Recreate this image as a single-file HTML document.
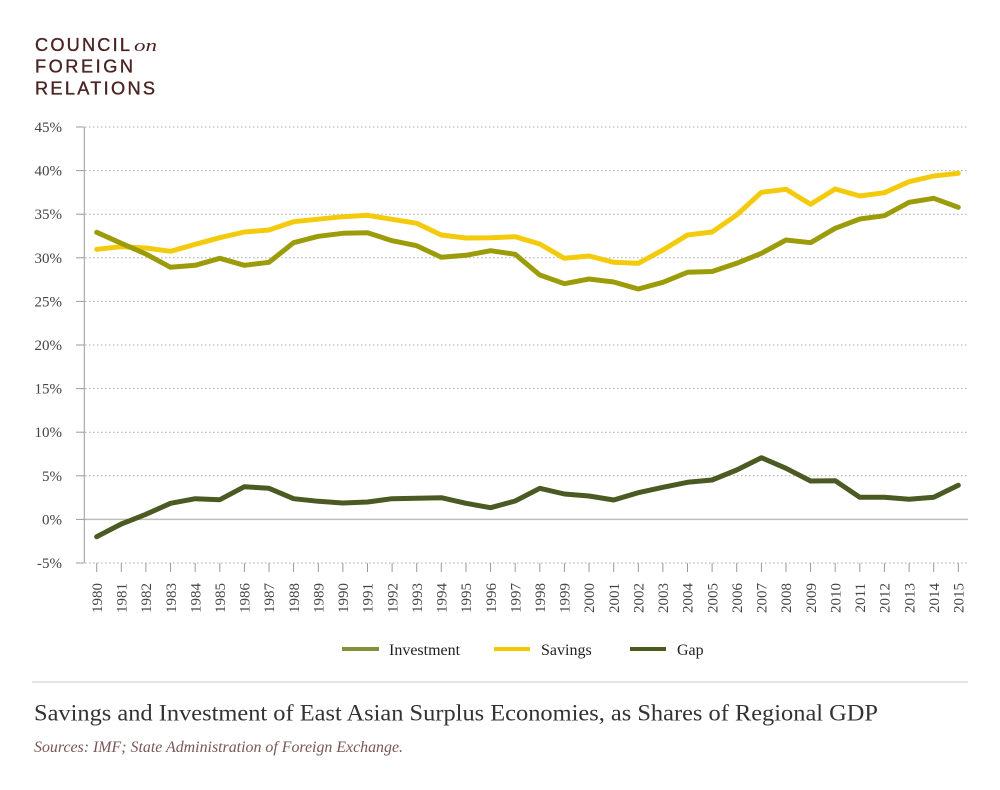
<!DOCTYPE html>
<html>
<head>
<meta charset="utf-8">
<style>
html,body{margin:0;padding:0;background:#fff;}
svg{display:block;}
</style>
</head>
<body>
<svg width="1000" height="790" viewBox="0 0 1000 790" xmlns="http://www.w3.org/2000/svg">
<rect width="1000" height="790" fill="#fff"/>
<!-- Logo -->
<g fill="#4b2323" stroke="#4b2323" stroke-width="0.35" font-family="'Liberation Sans', sans-serif" font-size="18.2">
<text x="35" y="51" textLength="95" lengthAdjust="spacing">COUNCIL</text>
<text x="35" y="72.7" textLength="98" lengthAdjust="spacing">FOREIGN</text>
<text x="35" y="94.3" textLength="120" lengthAdjust="spacing">RELATIONS</text>
</g>
<text x="134" y="51" font-family="'Liberation Serif', serif" font-style="italic" font-size="17" fill="#4b2323" textLength="23" lengthAdjust="spacingAndGlyphs">on</text>

<!-- gridlines -->
<g stroke="#a9a9a9" stroke-width="1" stroke-dasharray="1.5,2.5">
<line x1="85" y1="127" x2="968" y2="127"/>
<line x1="85" y1="170.6" x2="968" y2="170.6"/>
<line x1="85" y1="214.2" x2="968" y2="214.2"/>
<line x1="85" y1="257.8" x2="968" y2="257.8"/>
<line x1="85" y1="301.4" x2="968" y2="301.4"/>
<line x1="85" y1="345" x2="968" y2="345"/>
<line x1="85" y1="388.6" x2="968" y2="388.6"/>
<line x1="85" y1="432.2" x2="968" y2="432.2"/>
<line x1="85" y1="475.8" x2="968" y2="475.8"/>
<line x1="85" y1="563" x2="968" y2="563"/>
</g>
<line x1="84" y1="519.4" x2="968" y2="519.4" stroke="#bdbdbd" stroke-width="1.5"/>
<!-- y axis -->
<line x1="84.3" y1="127" x2="84.3" y2="563" stroke="#9a9a9a" stroke-width="1"/>
<g stroke="#9a9a9a" stroke-width="1">
<line x1="76" y1="127" x2="84" y2="127"/>
<line x1="76" y1="170.6" x2="84" y2="170.6"/>
<line x1="76" y1="214.2" x2="84" y2="214.2"/>
<line x1="76" y1="257.8" x2="84" y2="257.8"/>
<line x1="76" y1="301.4" x2="84" y2="301.4"/>
<line x1="76" y1="345" x2="84" y2="345"/>
<line x1="76" y1="388.6" x2="84" y2="388.6"/>
<line x1="76" y1="432.2" x2="84" y2="432.2"/>
<line x1="76" y1="475.8" x2="84" y2="475.8"/>
<line x1="76" y1="519.4" x2="84" y2="519.4"/>
<line x1="76" y1="563" x2="84" y2="563"/>
</g>
<g font-family="'Liberation Serif', serif" font-size="15" fill="#444" text-anchor="end">
<text x="62" y="132">45%</text>
<text x="62" y="175.6">40%</text>
<text x="62" y="219.2">35%</text>
<text x="62" y="262.8">30%</text>
<text x="62" y="306.4">25%</text>
<text x="62" y="350">20%</text>
<text x="62" y="393.6">15%</text>
<text x="62" y="437.2">10%</text>
<text x="62" y="480.8">5%</text>
<text x="62" y="524.4">0%</text>
<text x="62" y="568">-5%</text>
</g>

<!-- x ticks -->
<g stroke="#9a9a9a" stroke-width="1">
<line x1="96.7" y1="563" x2="96.7" y2="572"/><line x1="121.3" y1="563" x2="121.3" y2="572"/><line x1="145.9" y1="563" x2="145.9" y2="572"/><line x1="170.6" y1="563" x2="170.6" y2="572"/><line x1="195.2" y1="563" x2="195.2" y2="572"/><line x1="219.8" y1="563" x2="219.8" y2="572"/><line x1="244.4" y1="563" x2="244.4" y2="572"/><line x1="269" y1="563" x2="269" y2="572"/><line x1="293.6" y1="563" x2="293.6" y2="572"/><line x1="318.3" y1="563" x2="318.3" y2="572"/><line x1="342.9" y1="563" x2="342.9" y2="572"/><line x1="367.5" y1="563" x2="367.5" y2="572"/><line x1="392.1" y1="563" x2="392.1" y2="572"/><line x1="416.7" y1="563" x2="416.7" y2="572"/><line x1="441.3" y1="563" x2="441.3" y2="572"/><line x1="466" y1="563" x2="466" y2="572"/><line x1="490.6" y1="563" x2="490.6" y2="572"/><line x1="515.2" y1="563" x2="515.2" y2="572"/><line x1="539.8" y1="563" x2="539.8" y2="572"/><line x1="564.4" y1="563" x2="564.4" y2="572"/><line x1="589" y1="563" x2="589" y2="572"/><line x1="613.7" y1="563" x2="613.7" y2="572"/><line x1="638.3" y1="563" x2="638.3" y2="572"/><line x1="662.9" y1="563" x2="662.9" y2="572"/><line x1="687.5" y1="563" x2="687.5" y2="572"/><line x1="712.1" y1="563" x2="712.1" y2="572"/><line x1="736.7" y1="563" x2="736.7" y2="572"/><line x1="761.4" y1="563" x2="761.4" y2="572"/><line x1="786" y1="563" x2="786" y2="572"/><line x1="810.6" y1="563" x2="810.6" y2="572"/><line x1="835.2" y1="563" x2="835.2" y2="572"/><line x1="859.8" y1="563" x2="859.8" y2="572"/><line x1="884.4" y1="563" x2="884.4" y2="572"/><line x1="909.1" y1="563" x2="909.1" y2="572"/><line x1="933.7" y1="563" x2="933.7" y2="572"/><line x1="958.3" y1="563" x2="958.3" y2="572"/>
</g>
<g font-family="'Liberation Serif', serif" font-size="15" fill="#444" text-anchor="end">
<text transform="translate(101.9,583) rotate(-90)">1980</text>
<text transform="translate(126.5,583) rotate(-90)">1981</text>
<text transform="translate(151.1,583) rotate(-90)">1982</text>
<text transform="translate(175.8,583) rotate(-90)">1983</text>
<text transform="translate(200.4,583) rotate(-90)">1984</text>
<text transform="translate(225,583) rotate(-90)">1985</text>
<text transform="translate(249.6,583) rotate(-90)">1986</text>
<text transform="translate(274.2,583) rotate(-90)">1987</text>
<text transform="translate(298.8,583) rotate(-90)">1988</text>
<text transform="translate(323.5,583) rotate(-90)">1989</text>
<text transform="translate(348.1,583) rotate(-90)">1990</text>
<text transform="translate(372.7,583) rotate(-90)">1991</text>
<text transform="translate(397.3,583) rotate(-90)">1992</text>
<text transform="translate(421.9,583) rotate(-90)">1993</text>
<text transform="translate(446.5,583) rotate(-90)">1994</text>
<text transform="translate(471.2,583) rotate(-90)">1995</text>
<text transform="translate(495.8,583) rotate(-90)">1996</text>
<text transform="translate(520.4,583) rotate(-90)">1997</text>
<text transform="translate(545,583) rotate(-90)">1998</text>
<text transform="translate(569.6,583) rotate(-90)">1999</text>
<text transform="translate(594.2,583) rotate(-90)">2000</text>
<text transform="translate(618.9,583) rotate(-90)">2001</text>
<text transform="translate(643.5,583) rotate(-90)">2002</text>
<text transform="translate(668.1,583) rotate(-90)">2003</text>
<text transform="translate(692.7,583) rotate(-90)">2004</text>
<text transform="translate(717.3,583) rotate(-90)">2005</text>
<text transform="translate(741.9,583) rotate(-90)">2006</text>
<text transform="translate(766.6,583) rotate(-90)">2007</text>
<text transform="translate(791.2,583) rotate(-90)">2008</text>
<text transform="translate(815.8,583) rotate(-90)">2009</text>
<text transform="translate(840.4,583) rotate(-90)">2010</text>
<text transform="translate(865,583) rotate(-90)">2011</text>
<text transform="translate(889.6,583) rotate(-90)">2012</text>
<text transform="translate(914.3,583) rotate(-90)">2013</text>
<text transform="translate(938.9,583) rotate(-90)">2014</text>
<text transform="translate(963.5,583) rotate(-90)">2015</text>
</g>

<!-- series -->
<g fill="none" stroke-width="5" stroke-linejoin="round" stroke-linecap="round">
<polyline stroke="#f3cb0c" points="96.7,249.3 121.3,246.7 145.9,248 170.6,251.3 195.2,244.3 219.8,237.7 244.4,232 269,230 293.6,221.7 318.3,219.2 342.9,216.7 367.5,215.3 392.1,219.3 416.7,223.3 441.3,235 466,238 490.6,237.7 515.2,236.7 539.8,244 564.4,258.3 589,256 613.7,262.3 638.3,263.3 662.9,250 687.5,235 712.1,232 736.7,215 761.4,192.3 786,189.3 810.6,204.3 835.2,189 859.8,196 884.4,192.7 909.1,181.7 933.7,176 958.3,173.3"/>
<polyline stroke="#9c9c0b" points="96.7,232.3 121.3,243.3 145.9,254 170.6,267.3 195.2,265.3 219.8,258.3 244.4,265.3 269,262.3 293.6,242.7 318.3,236.3 342.9,233.3 367.5,232.7 392.1,240.7 416.7,245.7 441.3,257.3 466,255.3 490.6,250.7 515.2,254.3 539.8,275 564.4,283.7 589,279 613.7,282 638.3,289 662.9,282.3 687.5,272.3 712.1,271.5 736.7,263.3 761.4,253.3 786,240 810.6,242.7 835.2,228.3 859.8,219 884.4,215.7 909.1,202.3 933.7,198.3 958.3,207.3"/>
<polyline stroke="#4b5a22" points="96.7,536.7 121.3,524 145.9,514.3 170.6,503.3 195.2,498.7 219.8,499.7 244.4,486.7 269,488.3 293.6,498.7 318.3,501.3 342.9,503 367.5,502 392.1,498.7 416.7,498.3 441.3,497.7 466,503.3 490.6,507.7 515.2,501 539.8,488.3 564.4,494 589,496 613.7,500 638.3,492.7 662.9,487.3 687.5,482.3 712.1,480 736.7,470 761.4,457.7 786,468.3 810.6,481 835.2,480.7 859.8,497.3 884.4,497.3 909.1,499.3 933.7,497.3 958.3,485.3"/>
</g>

<!-- legend -->
<g stroke-width="4">
<line x1="342" y1="649" x2="379" y2="649" stroke="#7f9139"/>
<line x1="494" y1="649" x2="530" y2="649" stroke="#f5c900"/>
<line x1="630" y1="649" x2="666" y2="649" stroke="#4b5a22"/>
</g>
<g font-family="'Liberation Serif', serif" font-size="16" fill="#222">
<text x="389" y="655">Investment</text>
<text x="541" y="655">Savings</text>
<text x="677" y="655">Gap</text>
</g>

<line x1="32" y1="682" x2="968" y2="682" stroke="#dcdcdc" stroke-width="1.5"/>
<text x="34" y="720.5" font-family="'Liberation Serif', serif" font-size="23" fill="#333" textLength="844" lengthAdjust="spacingAndGlyphs">Savings and Investment of East Asian Surplus Economies, as Shares of Regional GDP</text>
<text x="34" y="752" font-family="'Liberation Serif', serif" font-style="italic" font-size="16" fill="#7a5656" textLength="369" lengthAdjust="spacingAndGlyphs">Sources: IMF; State Administration of Foreign Exchange.</text>
</svg>
</body>
</html>
